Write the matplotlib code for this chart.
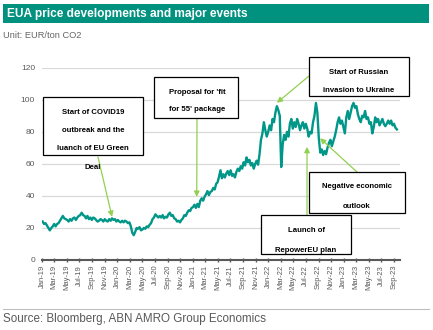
import pandas as pd
import matplotlib
matplotlib.use('Agg')
import matplotlib.pyplot as plt
import matplotlib.dates as mdates
from matplotlib.patches import Rectangle

plt.rcParams['font.family'] = ['Liberation Sans', 'DejaVu Sans']

# weekly EUA closing prices (EUR/ton CO2), Fridays from 4 Jan 2019
eua_2019 = [24, 22.5, 23, 21.5, 20, 18.5, 20, 21, 22.5, 21, 22.5, 23, 24.5,
            26, 27.5, 26, 25.5, 25, 24, 25.5, 24.5, 26, 26.5, 25, 26.5, 27.5,
            28, 29.5, 28, 27.5, 26, 27.5, 25.5, 26.5, 25, 26.5, 26, 25, 24,
            24.5, 25.5, 25, 24, 25.5, 24.5, 24, 25.5, 24.5, 26, 25, 25.5, 24]
eua_2020 = [25, 24, 23.5, 24.5, 23.5, 24.5, 24, 23, 23.5, 21, 17, 15.5, 17.5,
            20, 19.5, 20.5, 18.5, 19, 20, 19.5, 21, 20.5, 22, 23, 25.5, 26.5,
            28.5, 27.5, 26.5, 27.5, 26.5, 28, 26, 27, 26.5, 28.5, 29.5, 27.5, 28,
            26, 25.5, 24, 24.5, 23.5, 25, 26, 28, 27.5, 29.5, 31, 30.5, 32.5]
eua_2021 = [33, 34.5, 32.5, 35, 33, 37, 38.5, 37, 39.5, 41, 43, 40.5, 42.5,
            43, 45, 44, 47.5, 48.5, 52, 56, 51, 53.5, 51.5, 54, 55.5, 53,
            56, 52.5, 53.5, 51.5, 55, 57, 55.5, 58.5, 57, 61, 59, 64, 61,
            62.5, 59, 60.5, 57, 60, 62, 59.5, 66, 75, 79, 86, 81, 77, 80]
eua_2022 = [84, 81, 88, 86, 92, 96, 93.5, 90, 58, 72, 78, 75,
            80, 77, 85, 88, 82, 86, 83, 88, 85, 81, 84, 86, 82,
            85, 82, 77, 80, 79, 86, 90, 98, 92, 76, 67, 69, 65.5, 68,
            66, 70, 73, 75, 71, 74, 77, 81, 86, 89, 85, 87, 83]
eua_2023 = [79, 89, 93, 88, 92, 96, 98, 95, 96, 91, 88, 86, 90,
            89, 93, 88, 89, 85, 86, 79, 83, 89, 86, 88, 84, 86,
            88, 85, 83.5, 85, 87, 85, 87, 84, 85, 82.5, 81.5]

eua = eua_2019 + eua_2020 + eua_2021 + eua_2022 + eua_2023
weeks = pd.date_range('2019-01-04', periods=len(eua), freq='W-FRI')

# events: text lines, date and price the arrow points at
event_lines = [
    ['Start of COVID19', 'outbreak and the', 'luanch of EU Green', 'Deal'],
    ["Proposal for 'fit", "for 55' package"],
    ['Start of Russian', 'invasion to Ukraine'],
    ['Negative economic', 'outlook'],
    ['Launch of', 'RepowerEU plan'],
]
event_dates = ['2019-12-06', '2021-01-19', '2022-02-11', '2022-09-08', '2022-07-07']
event_values = [26.9, 39.4, 98.1, 76.0, 70.6]

TEAL = '#009688'
BAR = '#00917f'
ARROW = '#92d050'
GREY = '#595959'

W, H = 433, 330
fig = plt.figure(figsize=(W / 100, H / 100), dpi=100)


def fx(x):
    return x / W


def fy(y):
    return 1 - y / H


# header and footer
fig.add_artist(Rectangle((fx(3), fy(23)), (429 - 3) / W, 19 / H,
                         transform=fig.transFigure, color=BAR, lw=0))
fig.text(fx(7), fy(13.5), 'EUA price developments and major events', color='white',
         fontsize=8.6, fontweight='bold', va='center')
fig.text(fx(3), fy(36), 'Unit: EUR/ton CO2', color='#666666', fontsize=6.7, va='center')
fig.add_artist(plt.Line2D([fx(3), fx(429)], [fy(309), fy(309)], transform=fig.transFigure,
                          color='#bfbfbf', lw=0.8))
fig.text(fx(3), fy(319), 'Source: Bloomberg, ABN AMRO Group Economics', color=GREY,
         fontsize=8.4, va='center')

ax = fig.add_axes([fx(42), fy(260), (400 - 42) / W, (260 - 67.7) / H])
ax.plot(weeks, eua, color=TEAL, lw=1.7, zorder=3)

ax.set_ylim(0, 120)
ax.set_yticks(range(0, 121, 20))
ax.set_xlim(pd.Timestamp('2019-01-01'), pd.Timestamp('2023-09-30'))
ax.xaxis.set_major_locator(mdates.MonthLocator(bymonth=[1, 3, 5, 7, 9, 11]))
ax.xaxis.set_major_formatter(mdates.DateFormatter('%b-%y'))
ax.grid(axis='y', color='#d9d9d9', lw=0.9)
ax.set_axisbelow(True)
for s in ['top', 'right', 'left']:
    ax.spines[s].set_visible(False)
ax.spines['bottom'].set_color(GREY)
ax.spines['bottom'].set_linewidth(1.5)
ax.tick_params(axis='y', length=0, pad=5, labelsize=6, labelcolor=GREY)
ax.tick_params(axis='x', direction='inout', length=3, width=1, color=GREY,
               pad=2, labelsize=5.5, labelcolor=GREY, labelrotation=90)

# annotation boxes: (left, top, right, bottom), line centre x, line y's, arrow start
boxes = [
    ((43, 97, 143, 155), 93, [112, 131, 149, 168], (98, 157)),
    ((154, 77, 238, 118), 197, [92, 110], (197, 118)),
    ((309, 57, 409, 96), 359, [72, 90], (309, 76)),
    ((309, 172, 405, 213), 357, [187, 206], (357, 172)),
    ((261, 215, 351, 254), 306, [231, 250], (307, 215)),
]

for box, lines, d, v in zip(boxes, event_lines, event_dates, event_values):
    (x0, y0, x1, y1), cx, ys, (sx, sy) = box
    fig.add_artist(Rectangle((fx(x0), fy(y1)), (x1 - x0) / W, (y1 - y0) / H,
                             transform=fig.transFigure, facecolor='white',
                             edgecolor='black', lw=0.9, zorder=5))
    for line, y in zip(lines, ys):
        fig.text(fx(cx), fy(y), line, fontsize=5.6, fontweight='bold', color='black',
                 ha='center', va='center', zorder=6)
    ax.annotate('', xy=(mdates.date2num(pd.Timestamp(d)), v), xycoords='data',
                xytext=(sx, H - sy), textcoords='figure pixels', annotation_clip=False,
                arrowprops=dict(arrowstyle='-|>', color=ARROW, lw=0.9,
                                mutation_scale=8, shrinkA=0, shrinkB=0))

fig.savefig('out.png', dpi=100)
